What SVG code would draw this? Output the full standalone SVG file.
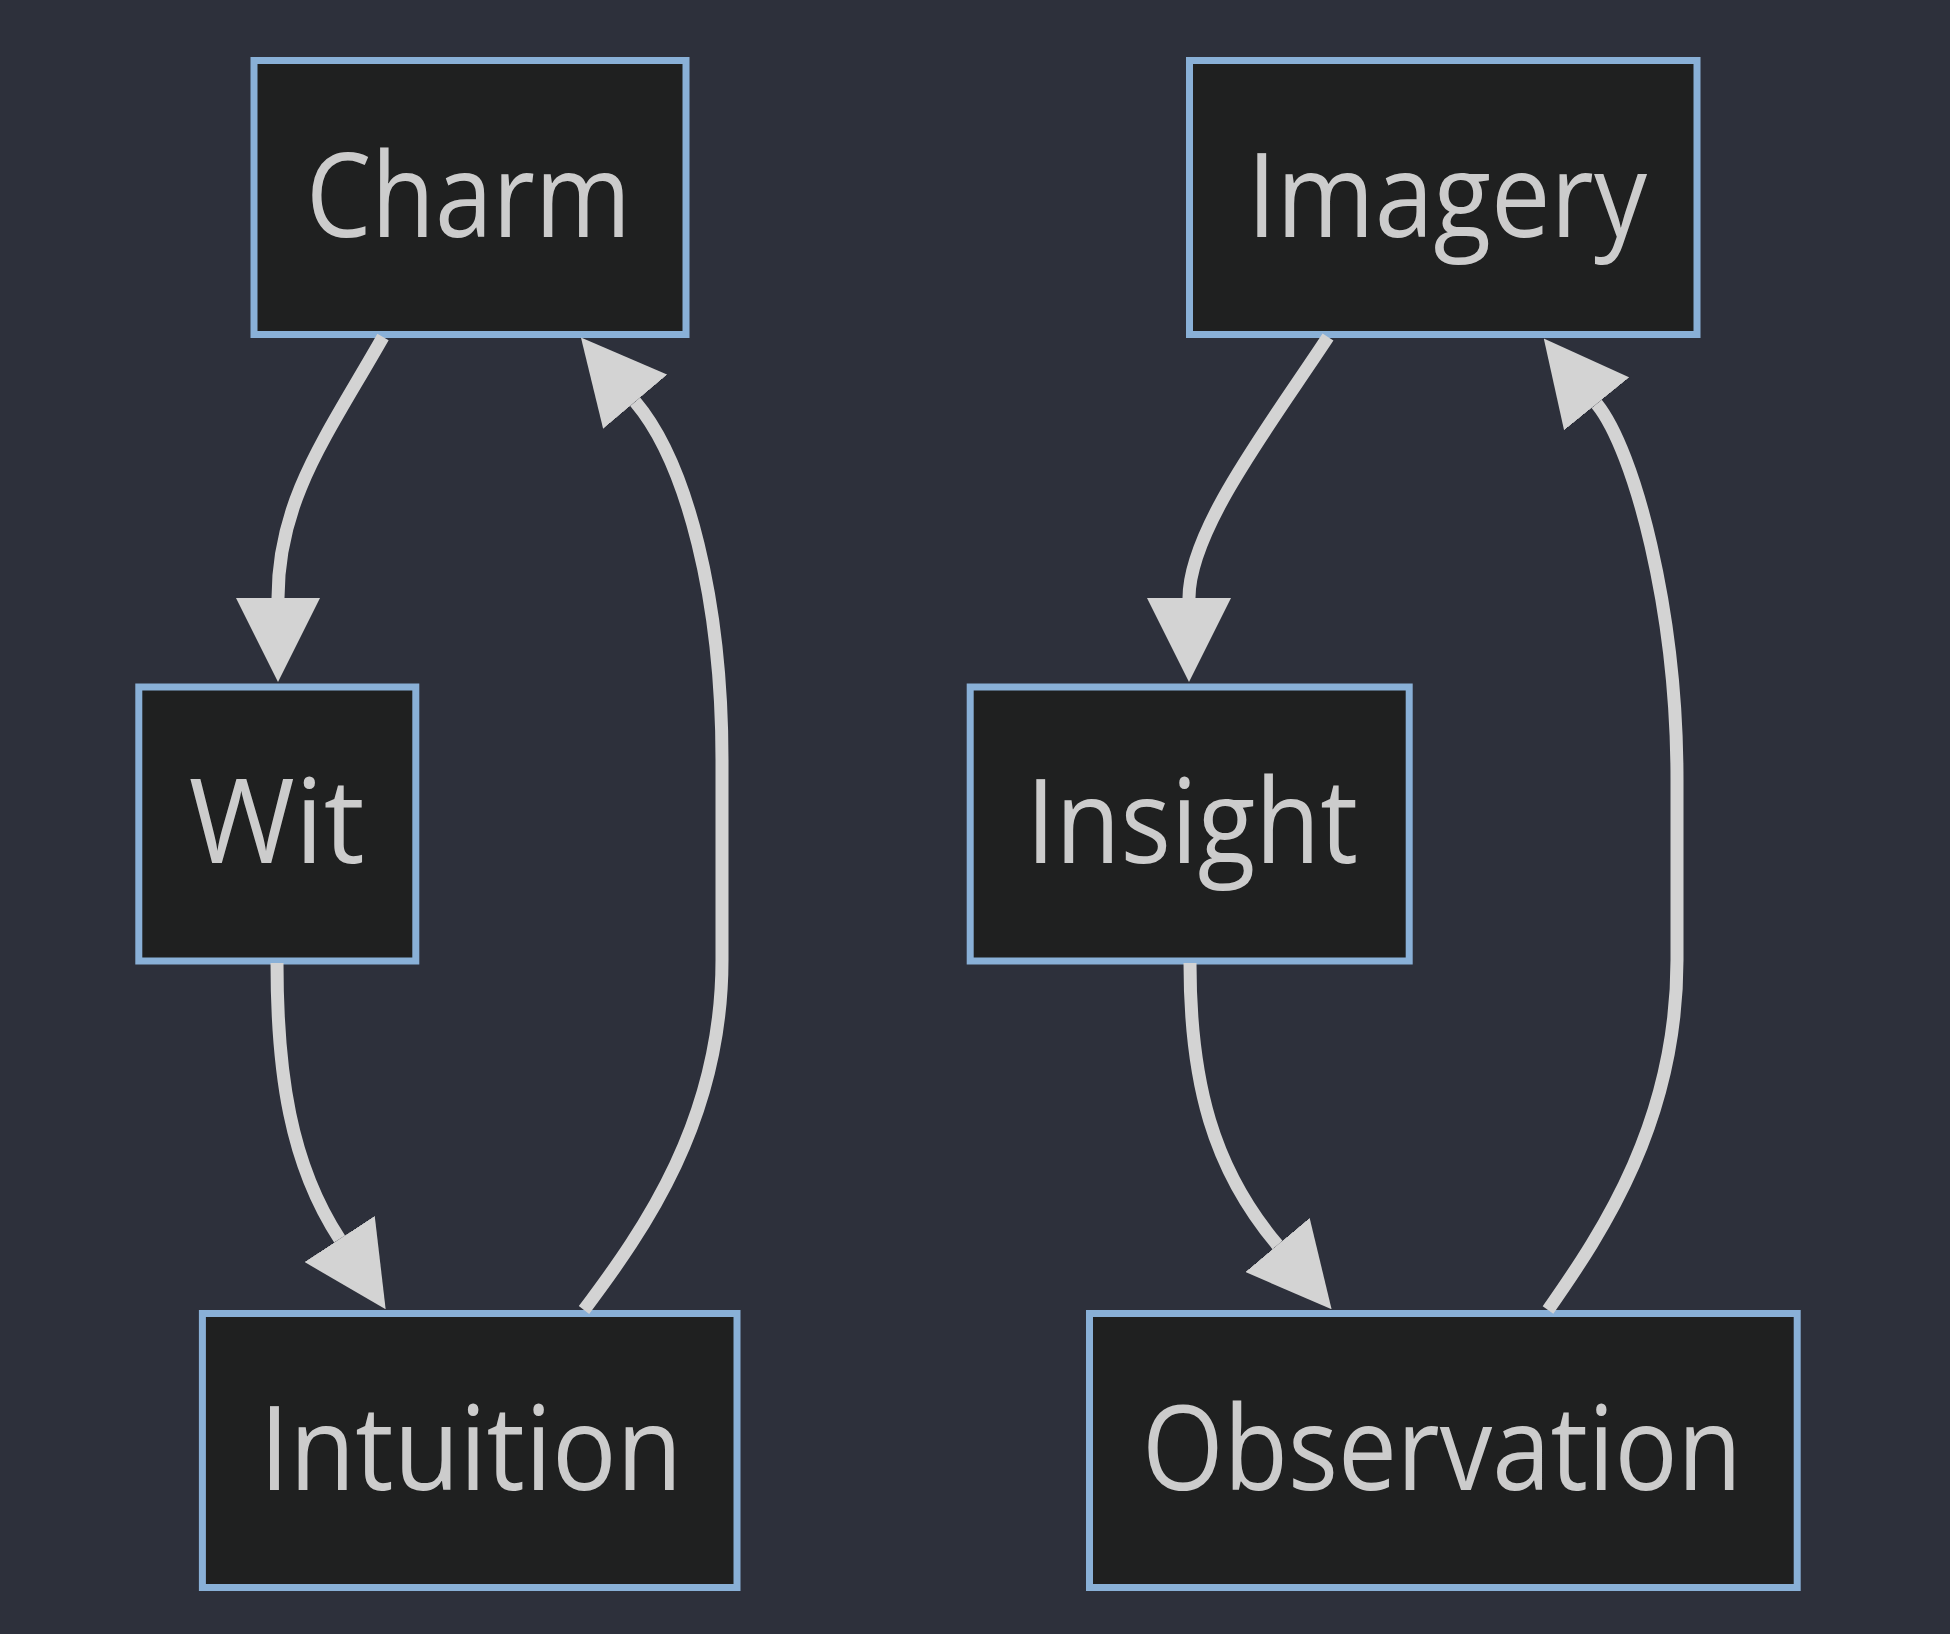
<svg xmlns="http://www.w3.org/2000/svg" width="1950" height="1634" viewBox="0 0 1950 1634">
  <defs>
    <style>
      .node rect { fill: #1f2020; stroke: #89b0d7; stroke-width: 7; }
      .node text { fill: #cccccc; font-family: "Open Sans", "Noto Sans", "Liberation Sans", sans-serif; font-size: 117px; text-anchor: middle; }
      .edge { fill: none; stroke: #d3d3d3; stroke-width: 13; }
    </style>
    <marker id="arrow" viewBox="0 0 10 10" refX="0" refY="5" markerUnits="userSpaceOnUse" markerWidth="84" markerHeight="84" orient="auto">
      <path d="M0,0 L10,5 L0,10 Z" fill="#d3d3d3"/>
    </marker>
  </defs>
  <rect x="0" y="0" width="1950" height="1634" fill="#2d303b"/>

  <g id="nodes">
    <g id="Charm" class="node">
      <rect x="254" y="60.5" width="432" height="274"/>
      <text x="468.5" y="237" textLength="325" lengthAdjust="spacingAndGlyphs">Charm</text>
    </g>
    <g id="Imagery" class="node">
      <rect x="1189.5" y="60.5" width="507.5" height="274"/>
      <text x="1447" y="237" textLength="400" lengthAdjust="spacingAndGlyphs">Imagery</text>
    </g>
    <g id="Wit" class="node">
      <rect x="138.8" y="687" width="277" height="274"/>
      <text x="276.7" y="863" textLength="176" lengthAdjust="spacingAndGlyphs">Wit</text>
    </g>
    <g id="Insight" class="node">
      <rect x="970.2" y="687" width="439" height="274"/>
      <text x="1192" y="863" textLength="332" lengthAdjust="spacingAndGlyphs">Insight</text>
    </g>
    <g id="Intuition" class="node">
      <rect x="202.4" y="1313.5" width="534.6" height="274"/>
      <text x="471" y="1489.5" textLength="423" lengthAdjust="spacingAndGlyphs">Intuition</text>
    </g>
    <g id="Observation" class="node">
      <rect x="1089.5" y="1313.5" width="707.7" height="274"/>
      <text x="1442" y="1489.5" textLength="600" lengthAdjust="spacingAndGlyphs">Observation</text>
    </g>
  </g>

  <g id="connectors">
    <path id="Charm-Wit" class="edge" d="M383,337 C326,437 278,500 278,598" marker-end="url(#arrow)"/>
    <path id="Wit-Intuition" class="edge" d="M277,963 C277,1073 290.3,1163.8 339.6,1239" marker-end="url(#arrow)"/>
    <path id="Intuition-Charm" class="edge" d="M584,1310 C644,1230 722,1120 722,960 L722,760 C722,600 686.9,462.8 635.2,401.7" marker-end="url(#arrow)"/>
    <path id="Imagery-Insight" class="edge" d="M1328,337 C1270,425 1189,530 1189,598" marker-end="url(#arrow)"/>
    <path id="Insight-Observation" class="edge" d="M1190,963 C1190,1083 1213.1,1168.5 1277.5,1245" marker-end="url(#arrow)"/>
    <path id="Observation-Imagery" class="edge" d="M1548,1310 C1604,1230 1677,1120 1677,960 L1677,780 C1677,610 1634.5,450.4 1596.7,403.8" marker-end="url(#arrow)"/>
  </g>
</svg>
